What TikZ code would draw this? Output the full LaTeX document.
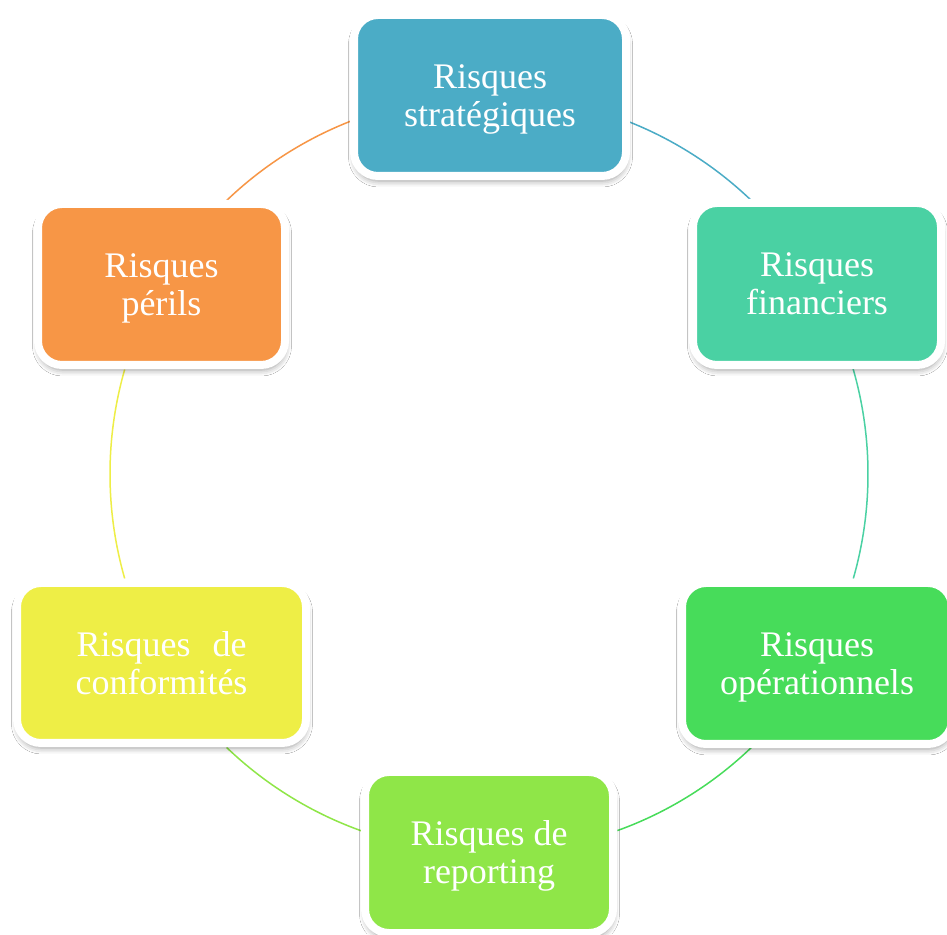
\documentclass[tikz,border=0pt]{standalone}
\usepackage{fontspec}
\setmainfont{Liberation Serif}
\usetikzlibrary{shadows.blur}

\definecolor{cStrat}{RGB}{75,172,198}
\definecolor{cFin}{RGB}{74,209,163}
\definecolor{cOp}{RGB}{71,220,90}
\definecolor{cRep}{RGB}{143,230,72}
\definecolor{cConf}{RGB}{238,238,70}
\definecolor{cPer}{RGB}{247,150,70}

\tikzset{
  riskbox/.style={
    draw=white, line width=8pt, rounded corners=24pt, inner sep=0pt,
    minimum height=161pt, text=white, align=center, text depth=0pt,
    font=\fontsize{36}{38}\selectfont,
    blur shadow={shadow xshift=0.5pt, shadow yshift=-5pt,
                 shadow blur radius=6pt, shadow opacity=40}
  },
  ring/.style={line width=1.5pt}
}

\begin{document}
\begin{tikzpicture}[x=1pt, y=1pt]
  \useasboundingbox (0,0) rectangle (947,934);
  \clip (0,0) rectangle (947,934);
  \fill[white] (0,0) rectangle (947,934);

  \coordinate (c) at (489,460);

  % ring segments, each in the colour of the box it leaves
  \draw[ring, cStrat] ([shift={(68.8:379pt)}]c) arc[start angle=68.8, end angle=46.4, radius=379pt];
  \draw[ring, cFin]   ([shift={(16.2:379pt)}]c) arc[start angle=16.2, end angle=-16.0, radius=379pt];
  \draw[ring, cOp]    ([shift={(-45.6:379pt)}]c) arc[start angle=-45.6, end angle=-70.2, radius=379pt];
  \draw[ring, cRep]   ([shift={(-109.6:379pt)}]c) arc[start angle=-109.6, end angle=-133.8, radius=379pt];
  \draw[ring, cConf]  ([shift={(-164.0:379pt)}]c) arc[start angle=-164.0, end angle=-196.0, radius=379pt];
  \draw[ring, cPer]   ([shift={(134.0:379pt)}]c) arc[start angle=134.0, end angle=111.2, radius=379pt];

  % risk categories
  \node[riskbox, fill=cStrat, minimum width=272pt] (strat) at (490,838.5) {Risques\\strat\'egiques};
  \node[riskbox, fill=cFin,   minimum width=248pt, minimum height=162pt] (fin) at (817,650) {Risques\\financiers};
  \node[riskbox, fill=cOp,    minimum width=270pt] (op) at (817,270.5) {Risques\\op\'erationnels};
  \node[riskbox, fill=cRep,   minimum width=248pt] (rep) at (489,81.5) {Risques de\\reporting};
  \node[riskbox, fill=cConf,  minimum width=289pt, minimum height=160pt] (conf) at (161.5,271) {Risques\hspace{22pt}de\\conformit\'es};
  \node[riskbox, fill=cPer,   minimum width=247pt] (per) at (161.5,649.5) {Risques\\p\'erils};
\end{tikzpicture}
\end{document}
